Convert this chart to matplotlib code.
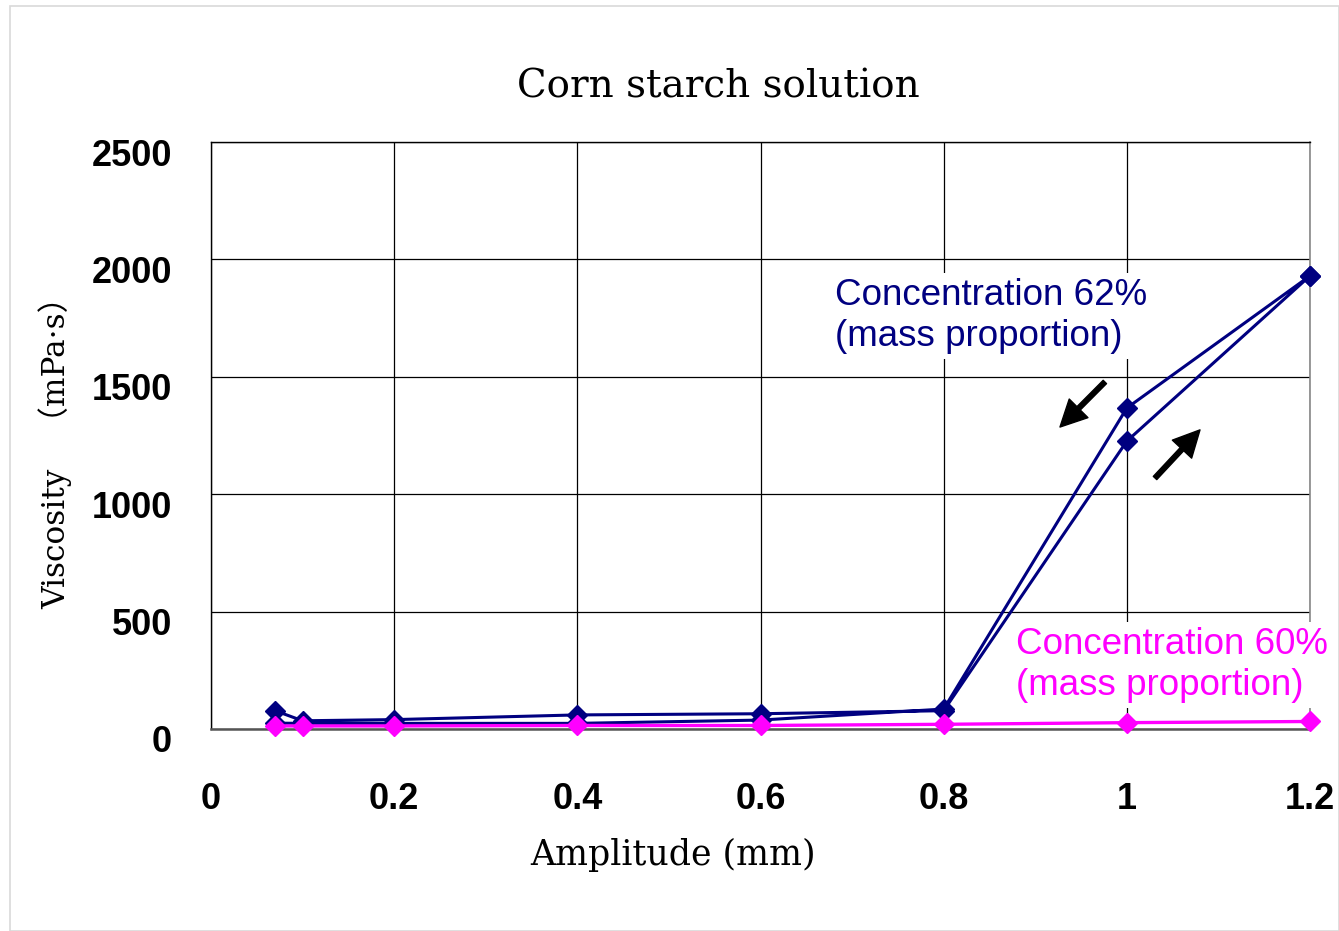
import matplotlib
matplotlib.use("Agg")
import matplotlib.pyplot as plt
from matplotlib.patches import Rectangle
from matplotlib.transforms import ScaledTranslation

# Data
amp_up = [0.07, 0.1, 0.2, 0.4, 0.6, 0.8, 1.0, 1.2]
visc62_up = [78, 35, 40, 60, 65, 78, 1226, 1930]
amp_down = [1.2, 1.0, 0.8, 0.6, 0.4, 0.2, 0.1, 0.07]
visc62_down = [1930, 1367, 85, 38, 24, 24, 24, 25]
amp60 = [0.07, 0.1, 0.2, 0.4, 0.6, 0.8, 1.0, 1.2]
visc60 = [13, 13, 13, 15, 15, 20, 27, 32]
xticks = [0, 0.2, 0.4, 0.6, 0.8, 1.0, 1.2]
xticklabels = ["0", "0.2", "0.4", "0.6", "0.8", "1", "1.2"]
yticks = [0, 500, 1000, 1500, 2000, 2500]

NAVY = "#000080"
PINK = "#FF00FF"
W, H = 1339, 931

fig = plt.figure(figsize=(W / 100, H / 100), dpi=100)
fig.patches.append(Rectangle((10 / W, 0), 1 - 10 / W, 1 - 6 / H, transform=fig.transFigure,
                             fill=False, edgecolor="#d9d9d9", linewidth=1.2))
ax = fig.add_axes([211 / W, 1 - 729 / H, (1310 - 211) / W, (729 - 142) / H])

ax.plot(amp_up + amp_down, visc62_up + visc62_down, color=NAVY, lw=2.2,
        marker="D", ms=10, mfc=NAVY, mec=NAVY, zorder=3, clip_on=False)
ax.plot(amp60, visc60, color=PINK, lw=2.4, marker="D", ms=10,
        mfc=PINK, mec=PINK, zorder=4, clip_on=False)

ax.set_xlim(0, 1.2)
ax.set_ylim(0, 2500)
ax.set_xticks(xticks)
ax.set_xticklabels(xticklabels)
ax.set_yticks(yticks)
ax.grid(True, color="black", linewidth=0.9)
ax.set_axisbelow(True)
ax.tick_params(length=0)
ax.tick_params(axis="y", pad=28)
ax.tick_params(axis="x", pad=38)
down = ScaledTranslation(0, -0.10, fig.dpi_scale_trans)
for lab in ax.get_xticklabels() + ax.get_yticklabels():
    lab.set_fontfamily("Liberation Sans")
    lab.set_fontweight("bold")
    lab.set_fontsize(26)
for lab in ax.get_yticklabels():
    lab.set_transform(lab.get_transform() + down)
for s in ["left", "top"]:
    ax.spines[s].set_color("black")
    ax.spines[s].set_linewidth(1.0)
ax.spines["right"].set_color("#888888")
ax.spines["right"].set_linewidth(1.2)
ax.spines["bottom"].set_color("#555555")
ax.spines["bottom"].set_linewidth(1.8)

# Arrows
ax.annotate("", xy=(0.927, 1286), xytext=(0.976, 1478),
            arrowprops=dict(facecolor="black", edgecolor="black", width=3.4,
                            headwidth=19, headlength=19, shrink=0))
ax.annotate("", xy=(1.0799, 1274), xytext=(1.0308, 1069),
            arrowprops=dict(facecolor="black", edgecolor="black", width=3.4,
                            headwidth=19, headlength=19, shrink=0))

# Annotations (white text boxes that hide the grid behind them)
box = dict(facecolor="white", edgecolor="none", pad=4)
fig.text(835 / W, 1 - 316 / H, "Concentration 62%\n(mass proportion)", color=NAVY,
         family="Liberation Sans", fontsize=26.5, ha="left", va="center",
         linespacing=1.2, bbox=box)
fig.text(1016 / W, 1 - 665 / H, "Concentration 60%\n(mass proportion)", color=PINK,
         family="Liberation Sans", fontsize=26.5, ha="left", va="center",
         linespacing=1.2, bbox=box)

fig.text(718 / W, 1 - 87 / H, "Corn starch solution", family="DejaVu Serif",
         fontsize=28, ha="center", va="center")
fig.text(673 / W, 1 - 855 / H, "Amplitude (mm)", family="DejaVu Serif",
         fontsize=25, ha="center", va="center")
fig.text(55 / W, 1 - 445 / H, "Viscosity\u3000（mPa·s）",
         family=["DejaVu Serif", "Noto Sans CJK JP"],
         fontsize=22.5, ha="center", va="center", rotation=90)

fig.savefig("out.png", dpi=100)
